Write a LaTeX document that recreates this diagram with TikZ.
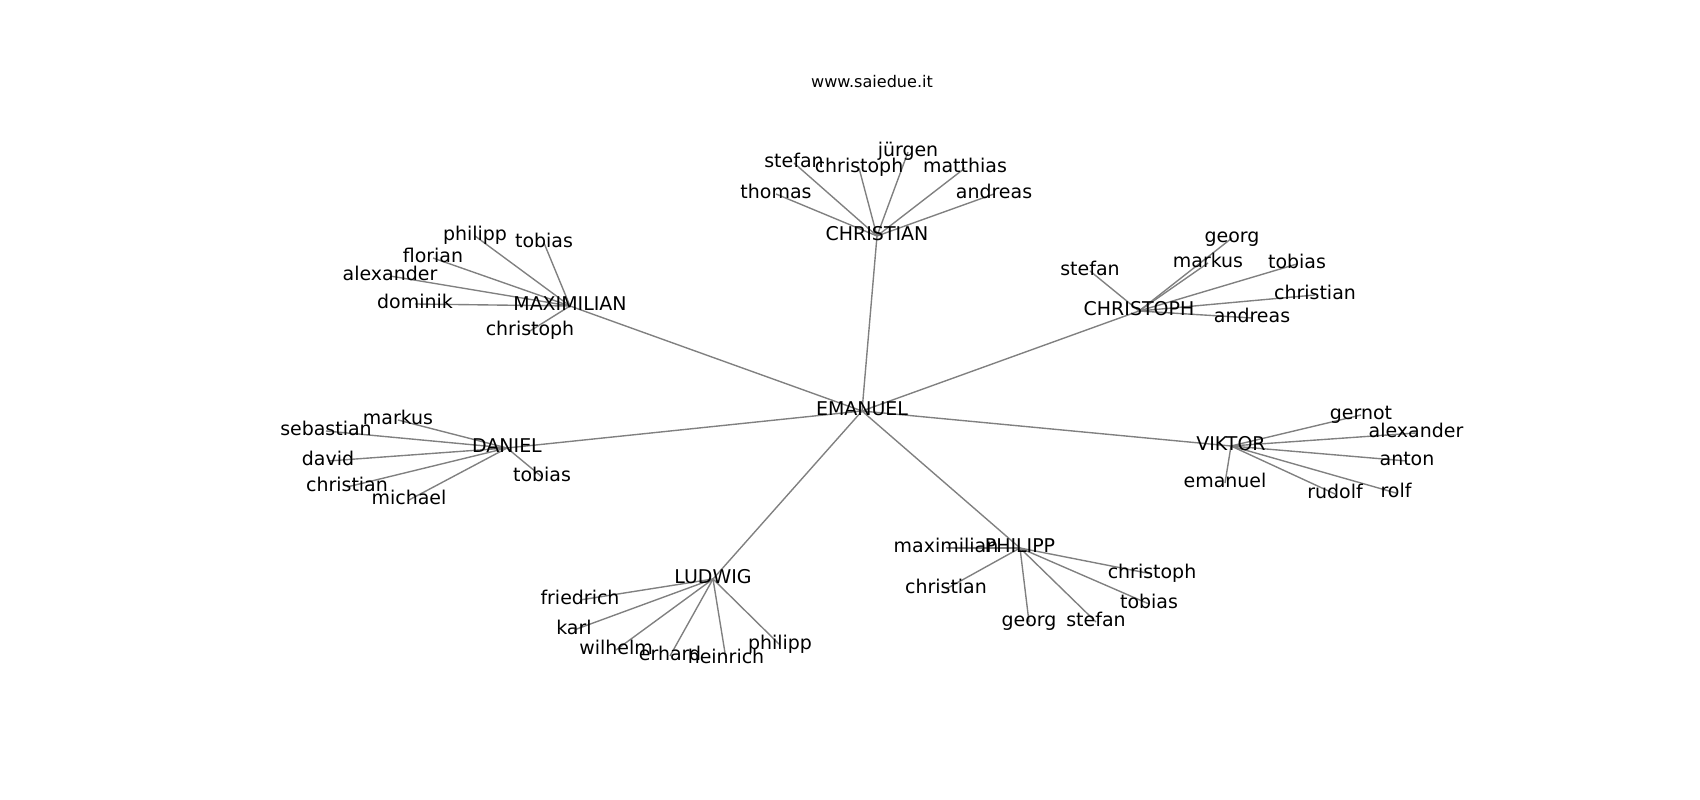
\documentclass[tikz,border=0pt]{standalone}
\usepackage{fontspec}
\setmainfont{DejaVu Sans}
\usetikzlibrary{backgrounds}
\begin{document}
\begin{tikzpicture}[x=0.01in,y=-0.01in,
  lbl/.style={inner sep=0pt, text height=10.41pt, text depth=3.23pt, font=\fontsize{13.7}{16}\selectfont, text=black},
  edge/.style={draw=gray, line width=1pt}]
\useasboundingbox (0,0) rectangle (1700,800);
\node[anchor=base, inner sep=0pt, font=\fontsize{11.6}{14}\selectfont] (title) at (872,88) {www.saiedue.it};
% hubs
\node[lbl] (em) at (862,411) {EMANUEL};
\node[lbl] (ca) at (877,236) {CHRISTIAN};
\node[lbl] (mx) at (570,306) {MAXIMILIAN};
\node[lbl] (co) at (1139,311) {CHRISTOPH};
\node[lbl] (da) at (507,448) {DANIEL};
\node[lbl] (vk) at (1231,446) {VIKTOR};
\node[lbl] (lu) at (713,579) {LUDWIG};
\node[lbl] (ph) at (1020,548) {PHILIPP};
% CHRISTIAN leaves
\node[lbl] (ca1) at (776,194) {thomas};
\node[lbl] (ca2) at (794,163) {stefan};
\node[lbl] (ca3) at (859,168) {christoph};
\node[lbl] (ca4) at (908,152) {jürgen};
\node[lbl] (ca5) at (965,168) {matthias};
\node[lbl] (ca6) at (994,194) {andreas};
% MAXIMILIAN leaves
\node[lbl] (mx1) at (475,236) {philipp};
\node[lbl] (mx2) at (544,243) {tobias};
\node[lbl] (mx3) at (433,258) {florian};
\node[lbl] (mx4) at (390,276) {alexander};
\node[lbl] (mx5) at (415,304) {dominik};
\node[lbl] (mx6) at (530,331) {christoph};
% CHRISTOPH leaves
\node[lbl] (co1) at (1232,238) {georg};
\node[lbl] (co2) at (1208,263) {markus};
\node[lbl] (co3) at (1090,271) {stefan};
\node[lbl] (co4) at (1297,264) {tobias};
\node[lbl] (co5) at (1315,295) {christian};
\node[lbl] (co6) at (1252,318) {andreas};
% DANIEL leaves
\node[lbl] (da1) at (398,420) {markus};
\node[lbl] (da2) at (326,431) {sebastian};
\node[lbl] (da3) at (328,461) {david};
\node[lbl] (da4) at (347,487) {christian};
\node[lbl] (da5) at (409,500) {michael};
\node[lbl] (da6) at (542,477) {tobias};
% VIKTOR leaves
\node[lbl] (vk1) at (1361,415) {gernot};
\node[lbl] (vk2) at (1416,433) {alexander};
\node[lbl] (vk3) at (1407,461) {anton};
\node[lbl] (vk4) at (1396,493) {rolf};
\node[lbl] (vk5) at (1335,494) {rudolf};
\node[lbl] (vk6) at (1225,483) {emanuel};
% LUDWIG leaves
\node[lbl] (lu1) at (580,600) {friedrich};
\node[lbl] (lu2) at (574,630) {karl};
\node[lbl] (lu3) at (616,650) {wilhelm};
\node[lbl] (lu4) at (670,656) {erhard};
\node[lbl] (lu5) at (726,659) {heinrich};
\node[lbl] (lu6) at (780,645) {philipp};
% PHILIPP leaves
\node[lbl] (ph1) at (946,548) {maximilian};
\node[lbl] (ph2) at (946,589) {christian};
\node[lbl] (ph3) at (1029,622) {georg};
\node[lbl] (ph4) at (1096,622) {stefan};
\node[lbl] (ph5) at (1149,604) {tobias};
\node[lbl] (ph6) at (1152,574) {christoph};
\begin{scope}[on background layer]
\foreach \h in {ca,mx,co,da,vk,lu,ph}{
  \draw[edge] (em.center) -- (\h.center);
  \foreach \i in {1,...,6}{
    \draw[edge] (\h.center) -- (\h\i.center);
  }
}
\end{scope}
\end{tikzpicture}
\end{document}
